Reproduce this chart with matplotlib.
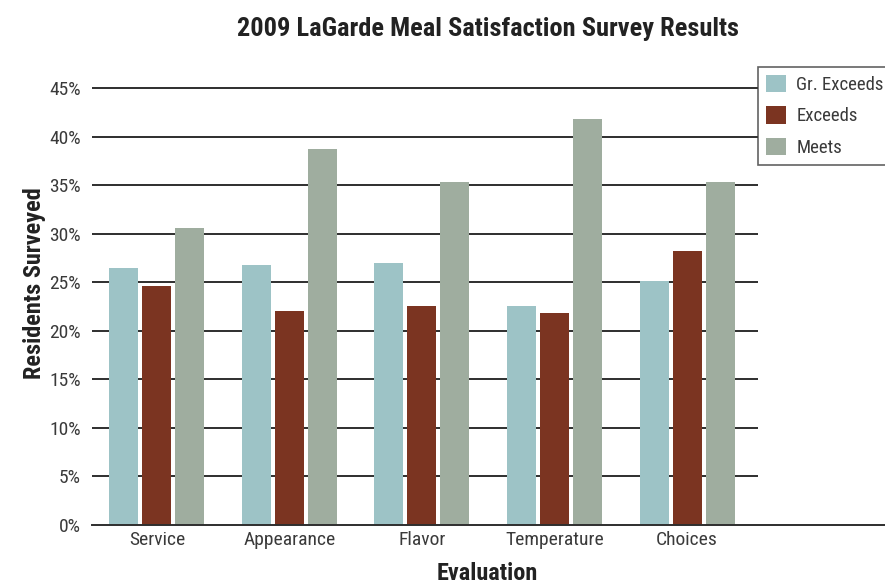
import matplotlib
matplotlib.use("Agg")
import matplotlib.pyplot as plt
from matplotlib import font_manager
from matplotlib.patches import Patch
import numpy as np

# pick the narrowest sans family that is installed
_fonts = font_manager.fontManager.ttflist
_names = {f.name for f in _fonts}
_condensed = {f.name for f in _fonts
              if str(f.stretch) in ("condensed", "semi-condensed", "extra-condensed",
                                    "ultra-condensed", "300", "375", "400", "200", "100")}
family = None
for fam in ["Liberation Sans Narrow", "Roboto Condensed", "Open Sans Condensed",
            "Noto Sans Condensed", "DejaVu Sans Condensed"]:
    if fam in _names:
        family = fam
        break
stretch = "normal"
if family is None:
    for fam in ["Roboto", "Noto Sans", "Open Sans", "DejaVu Sans"]:
        if fam in _condensed:
            family, stretch = fam, "condensed"
            break
if family is None:
    family = "Roboto"
plt.rcParams['font.family'] = [family, 'DejaVu Sans']
plt.rcParams['font.stretch'] = stretch

categories = ["Service", "Appearance", "Flavor", "Temperature", "Choices"]
series_names = ["Gr. Exceeds", "Exceeds", "Meets"]
gr_exceeds = [26.5, 26.8, 27.0, 22.6, 25.1]
exceeds = [24.6, 22.0, 22.6, 21.8, 28.2]
meets = [30.6, 38.7, 35.3, 41.8, 35.3]
yticks = [0, 5, 10, 15, 20, 25, 30, 35, 40, 45]
ytick_labels = [f"{t}%" for t in yticks]

colors = ["#9dc3c6", "#7b3421", "#9fad9f"]
text_color = "#3a3a3a"

fig = plt.figure(figsize=(8.85, 5.85), dpi=100)
ax = fig.add_axes([92 / 885, 60 / 585, 793 / 885, 437 / 585])

x = np.arange(len(categories))
pitch = 0.249
width = 0.219
for i, (vals, c) in enumerate(zip([gr_exceeds, exceeds, meets], colors)):
    ax.bar(x + (i - 1) * pitch, vals, width=width, color=c, zorder=3)

x_left = -0.49
x_right = 5.494
grid_end = 4.536
ax.set_xlim(x_left, x_right)
ax.set_ylim(0, 45)

# horizontal grid lines stop at the legend column
ax.hlines(yticks[1:], x_left, grid_end, colors="#2e2e2e", linewidth=1.4,
          zorder=2, clip_on=False)
ax.axhline(0, color="#2e2e2e", linewidth=1.4, zorder=4, clip_on=False)

for s in ax.spines.values():
    s.set_visible(False)

ax.set_yticks(yticks)
ax.set_yticklabels(ytick_labels)
ax.set_xticks(x)
ax.set_xticklabels(categories)
ax.tick_params(axis="both", length=0, labelsize=14, colors=text_color)
ax.tick_params(axis="y", pad=8)
ax.tick_params(axis="x", pad=4)

fig.text(487 / 885, 1 - 573 / 585, "Evaluation", ha="center", va="center",
         fontsize=17.5, fontweight="bold", color="#222222")
fig.text(35 / 885, 1 - 283 / 585, "Residents Surveyed", ha="center", va="center",
         rotation=90, fontsize=17.5, fontweight="bold", color="#222222")

fig.text(488 / 885, 1 - 29 / 585, "2009 LaGarde Meal Satisfaction Survey Results",
         ha="center", va="center", fontsize=19, fontweight="bold", color="#222222")

handles = [Patch(facecolor=c, edgecolor="none") for c in colors]
leg = fig.legend(handles, series_names, loc="upper left",
                 bbox_to_anchor=(758 / 885, 1 - 66.5 / 585),
                 bbox_transform=fig.transFigure, borderaxespad=0,
                 fontsize=13.5, frameon=True, fancybox=False,
                 handlelength=1.05, handleheight=1.05, handletextpad=0.55,
                 labelspacing=0.65, borderpad=0.45)
leg.get_frame().set_edgecolor("#3a3a3a")
leg.get_frame().set_linewidth(1.2)
for t in leg.get_texts():
    t.set_color(text_color)

fig.savefig("out.png", dpi=100)
